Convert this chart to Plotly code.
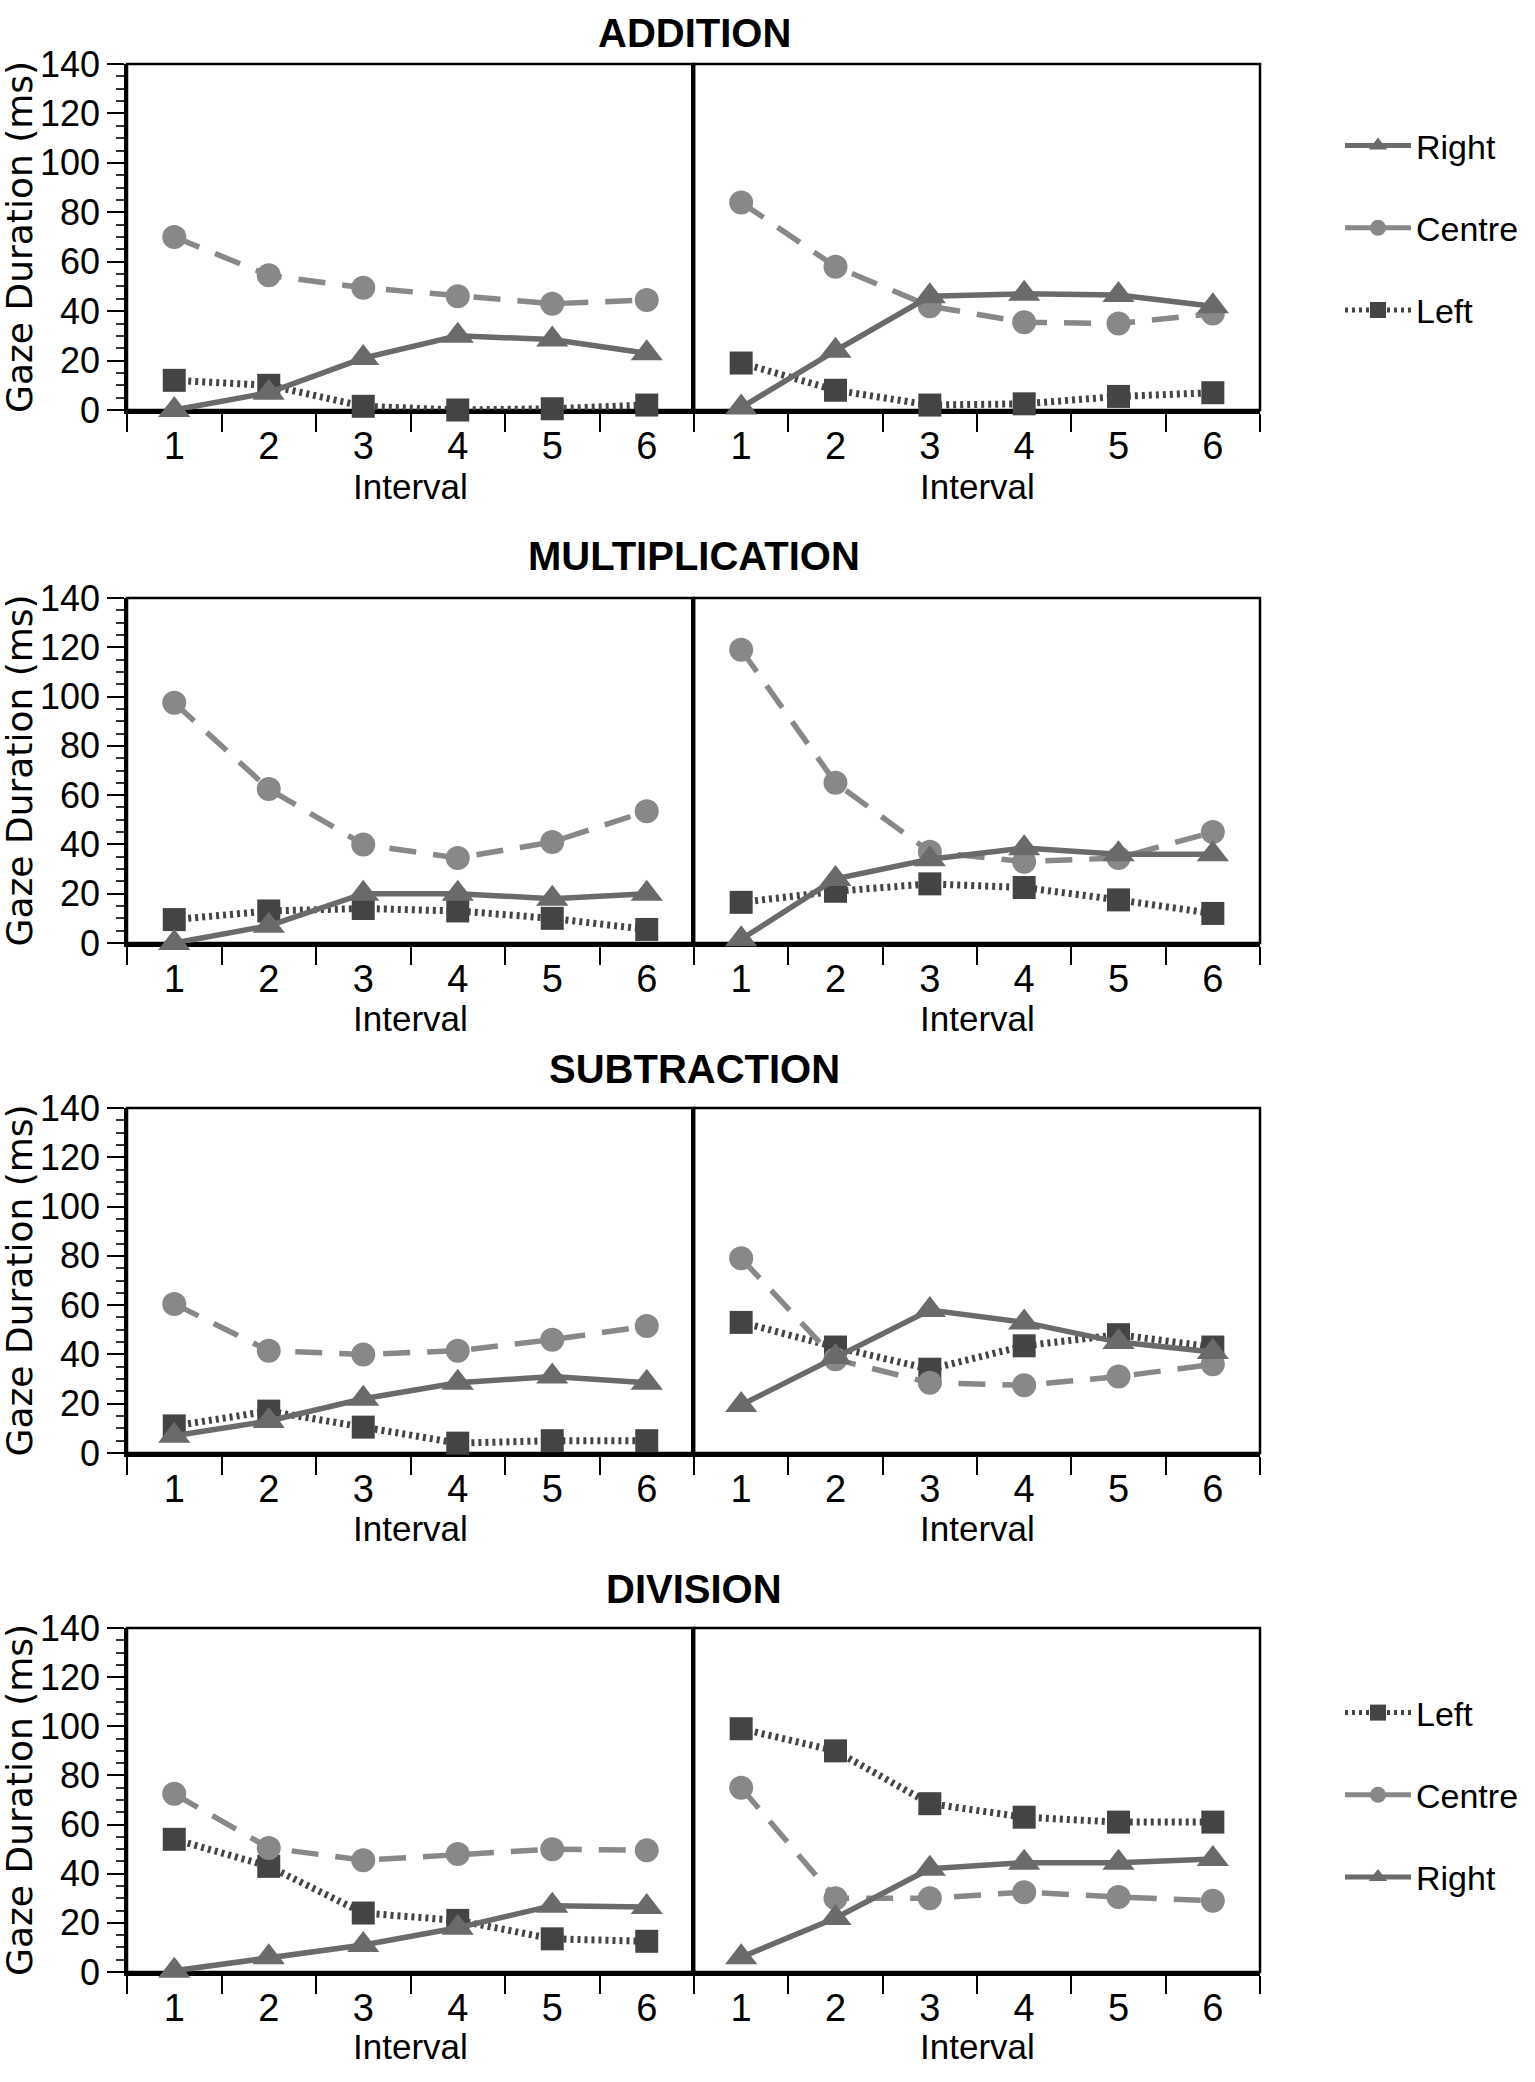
import plotly.graph_objects as go

W, H = 1535, 2082
FONT = "Liberation Sans, Arial, Helvetica, sans-serif"
WIDE = "DejaVu Sans, Liberation Sans, sans-serif"

intervals = ["1", "2", "3", "4", "5", "6"]
operations = ["ADDITION", "MULTIPLICATION", "SUBTRACTION", "DIVISION"]

# values per operation: (left panel, right panel)
add_right_a = [0, 7, 21, 30, 28.5, 23]
add_centre_a = [70, 54.5, 49.5, 46, 43, 44.5]
add_left_a = [12, 10, 1.5, 0, 0.5, 2]
add_right_b = [1, 24, 46, 47, 46.5, 42]
add_centre_b = [84, 58, 42, 35.5, 35, 39]
add_left_b = [19, 8, 2, 2.5, 5.5, 7]

mul_right_a = [0, 7, 20, 20, 18, 20]
mul_centre_a = [97.5, 62.5, 40, 34.5, 41, 53.5]
mul_left_a = [9.5, 13, 14, 13, 10, 5.5]
mul_right_b = [1.5, 26, 34, 38.5, 36, 36]
mul_centre_b = [119, 65, 37, 33, 34.5, 45]
mul_left_b = [16.5, 21, 24, 22.5, 17.5, 12]

sub_right_a = [7, 13, 22, 28.5, 31, 28.5]
sub_centre_a = [60.5, 41.5, 40, 41.5, 46, 51.5]
sub_left_a = [11, 17, 10.5, 4, 5, 5]
sub_right_b = [19.5, 39, 58, 53, 45, 41]
sub_centre_b = [79, 38, 28.5, 27.5, 31, 36]
sub_left_b = [53, 43, 34, 43.5, 48, 43]

div_right_a = [0.5, 6, 11, 18, 27, 26.5]
div_centre_a = [72.5, 50.5, 45.5, 48, 50, 49.5]
div_left_a = [54, 43, 24, 21, 13.5, 12.5]
div_right_b = [6, 22, 42, 44.5, 44.5, 46]
div_centre_b = [75, 30, 30, 32.5, 30.5, 29]
div_left_b = [99, 90, 68.5, 63, 61, 61]

panels = [
    [(add_left_a, add_centre_a, add_right_a), (add_left_b, add_centre_b, add_right_b)],
    [(mul_left_a, mul_centre_a, mul_right_a), (mul_left_b, mul_centre_b, mul_right_b)],
    [(sub_left_a, sub_centre_a, sub_right_a), (sub_left_b, sub_centre_b, sub_right_b)],
    [(div_left_a, div_centre_a, div_right_a), (div_left_b, div_centre_b, div_right_b)],
]

y_ticks = [0, 20, 40, 60, 80, 100, 120, 140]

C_RIGHT = "#6a6a6a"
C_CENTRE = "#888888"
C_LEFT = "#444444"

style = {
    "Left": dict(color=C_LEFT, symbol="square", dash="3px,4px", lw=7, size=23),
    "Centre": dict(color=C_CENTRE, symbol="circle", dash="27px,17px", lw=5.5, size=24),
    "Right": dict(color=C_RIGHT, symbol="triangle-up", dash="solid", lw=5.5, size=28),
}

# pixel layout
col_x = [(127, 694), (694, 1260)]
row_y = [(64, 410), (598, 943), (1108, 1453), (1628, 1972)]
title_y = [33, 556, 1069, 1589]
interval_y = [486, 1019, 1528, 2046]

def px_x(v):
    return v / W

def px_y(v):
    return 1 - v / H

fig = go.Figure()
layout = {}
shapes = []
annotations = []

for r in range(4):
    for c in range(2):
        i = r * 2 + c + 1
        xs = "" if i == 1 else str(i)
        left, centre, right = panels[r][c]
        for name, vals in (("Left", left), ("Centre", centre), ("Right", right)):
            st = style[name]
            fig.add_trace(go.Scatter(
                x=intervals, y=vals, mode="lines+markers", name=name,
                showlegend=False, cliponaxis=False,
                line=dict(color=st["color"], width=st["lw"], dash=st["dash"]),
                marker=dict(symbol=st["symbol"], size=st["size"], color=st["color"]),
                xaxis="x" + xs, yaxis="y" + xs,
            ))
        x0, x1 = col_x[c]
        y0, y1 = row_y[r]
        layout["xaxis" + xs] = dict(
            domain=[px_x(x0), px_x(x1)], anchor="y" + xs,
            type="category", categoryorder="array", categoryarray=intervals,
            range=[-0.5, 5.5], tickson="boundaries", ticks="outside",
            ticklen=18, tickwidth=2, tickcolor="black",
            showline=True, linewidth=3.5, linecolor="black",
            showgrid=False, zeroline=False, layer="below traces",
            tickfont=dict(family=FONT, size=38, color="black"), fixedrange=True,
        )
        ycfg = dict(
            domain=[px_y(y1), px_y(y0)], anchor="x" + xs,
            range=[0, 140], showgrid=False, zeroline=False,
            showline=True, linewidth=2.5, linecolor="black", layer="below traces",
            fixedrange=True,
        )
        if c == 0:
            ycfg.update(
                tickmode="array", tickvals=y_ticks, ticks="outside",
                ticklen=17, tickwidth=2, tickcolor="black",
                minor=dict(dtick=5, tick0=0, ticks="outside", ticklen=8,
                           tickwidth=1.5, tickcolor="#333333", showgrid=False),
                tickfont=dict(family=FONT, size=36, color="black"),
            )
        else:
            ycfg.update(showticklabels=False, ticks="")
        layout["yaxis" + xs] = ycfg
        shapes.append(dict(
            type="rect", xref="x" + xs + " domain", yref="y" + xs + " domain",
            x0=0, x1=1, y0=0, y1=1, line=dict(color="black", width=2.5),
            layer="below",
        ))
        annotations.append(dict(
            text="Interval", xref="paper", yref="paper",
            x=px_x((x0 + x1) / 2), y=px_y(interval_y[r]),
            xanchor="center", yanchor="middle", showarrow=False,
            font=dict(family=FONT, size=35, color="black"),
        ))
    annotations.append(dict(
        text="<b>" + operations[r] + "</b>", xref="paper", yref="paper",
        x=px_x(694), y=px_y(title_y[r]), xanchor="center", yanchor="middle",
        showarrow=False, font=dict(family=FONT, size=40, color="black"),
    ))
    annotations.append(dict(
        text="Gaze Duration (ms)", xref="paper", yref="paper",
        x=px_x(19), y=px_y((row_y[r][0] + row_y[r][1]) / 2), textangle=-90,
        xanchor="center", yanchor="middle", showarrow=False,
        font=dict(family=WIDE, size=36, color="black"),
    ))

# legend entries (no data; only the legend key)
top_order = ["Right", "Centre", "Left"]
bottom_order = ["Left", "Centre", "Right"]
for lg, order in (("legend", top_order), ("legend2", bottom_order)):
    for name in order:
        st = style[name]
        fig.add_trace(go.Scatter(
            x=[None], y=[None], mode="lines+markers", name=name,
            legend=lg, legendgroup=lg + name, showlegend=True,
            line=dict(color=st["color"], width=5,
                      dash="3px,4px" if name == "Left" else "solid"),
            marker=dict(symbol=st["symbol"], size=st["size"], color=st["color"]),
            xaxis="x", yaxis="y",
        ))

legend_common = dict(
    font=dict(family=FONT, size=34, color="black"),
    traceorder="grouped", tracegroupgap=35, itemwidth=66,
    bgcolor="rgba(0,0,0,0)", borderwidth=0,
    xanchor="left", yanchor="top",
)

fig.update_layout(
    width=W, height=H,
    margin=dict(l=0, r=0, t=0, b=0, pad=0, autoexpand=False),
    paper_bgcolor="white", plot_bgcolor="white",
    font=dict(family=FONT, color="black"),
    shapes=shapes, annotations=annotations,
    legend=dict(x=px_x(1340), y=px_y(117), **legend_common),
    legend2=dict(x=px_x(1340), y=px_y(1684), **legend_common),
    **layout,
)

fig.write_html(
    "out.html",
    config={"displayModeBar": False},
    post_script="document.body.style.margin='0px';document.body.style.overflow='hidden';",
)
